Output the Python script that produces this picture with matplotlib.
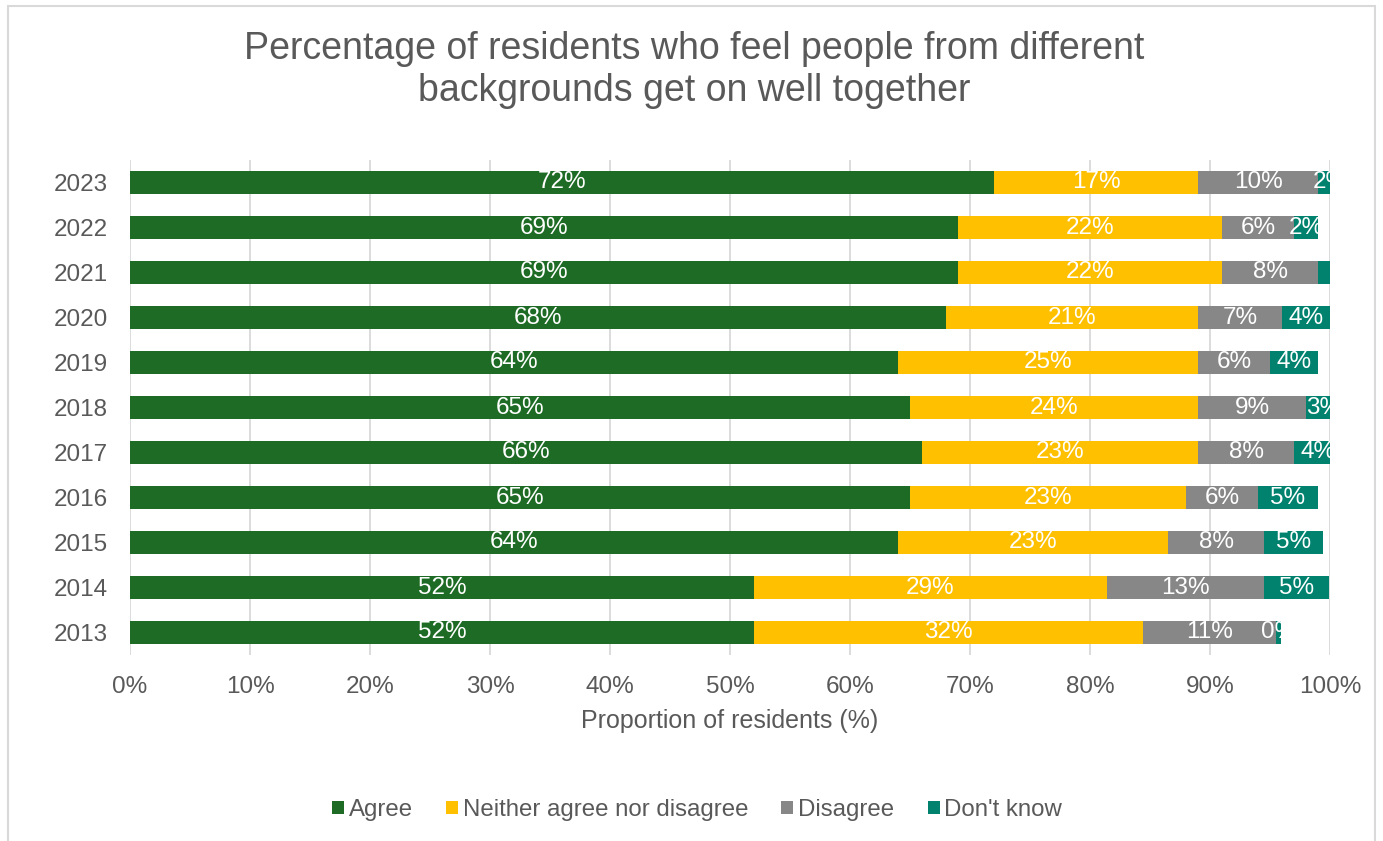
import matplotlib.pyplot as plt
from matplotlib.patches import Rectangle
import numpy as np

plt.rcParams['font.family'] = ['Liberation Sans', 'DejaVu Sans']

# Survey results (percent)
years = ['2023', '2022', '2021', '2020', '2019', '2018', '2017', '2016', '2015', '2014', '2013']
agree = [72, 69, 69, 68, 64, 65, 66, 65, 64, 52, 52]
neither = [17, 22, 22, 21, 25, 24, 23, 23, 22.5, 29.4, 32.4]
disagree = [10, 6, 8, 7, 6, 9, 8, 6, 8, 13.1, 11.1]
dont_know = [2, 2, 1, 4, 4, 3, 4, 5, 4.9, 5.4, 0.4]
# 2021 "Don't know" had no visible label
show_dk_label = [True, True, False, True, True, True, True, True, True, True, True]

series = [
    ('Agree', agree, '#1E6B25'),
    ('Neither agree nor disagree', neither, '#FFC000'),
    ('Disagree', disagree, '#878787'),
    ("Don't know", dont_know, '#00826F'),
]

text_col = '#595959'

fig = plt.figure(figsize=(13.83, 8.41), dpi=100)
ax = fig.add_axes([130 / 1383, 1 - 655 / 841, 1200 / 1383, 495 / 841])

# outer chart border
fig.patches.append(Rectangle((8 / 1383, -0.01), 1367 / 1383, 1.01 - 6 / 841, transform=fig.transFigure,
                             fill=False, edgecolor='#D9D9D9', linewidth=1.5))

y = np.arange(len(years))
left = np.zeros(len(years))
for name, vals, col in series:
    vals = np.array(vals, dtype=float)
    ax.barh(y, vals, left=left, height=0.5, color=col, label=name, zorder=2)
    for i, v in enumerate(vals):
        if name == "Don't know" and not show_dk_label[i]:
            continue
        ax.text(left[i] + v / 2, y[i], f'{int(v + 0.5)}%' if v >= 1 else f'{v:.0f}%',
                ha='center', va='center', color='white', fontsize=17.5, zorder=3)
    left += vals

ax.set_xlim(0, 100)
ax.set_ylim(len(years) - 0.5, -0.5)
ax.set_yticks(y)
ax.set_yticklabels(years)
ax.set_xticks(np.arange(0, 101, 10))
ax.set_xticklabels([f'{t}%' for t in range(0, 101, 10)])
ax.tick_params(axis='both', length=0, labelsize=17.5, labelcolor=text_col)
ax.tick_params(axis='x', pad=15)
ax.tick_params(axis='y', pad=16)
ax.grid(axis='x', color='#D9D9D9', linewidth=1.3, zorder=0)
ax.set_axisbelow(True)
for s in ax.spines.values():
    s.set_visible(False)

ax.set_xlabel('Proportion of residents (%)', fontsize=18, color=text_col, labelpad=8)

fig.text(0.502, 1 - 70 / 841, 'Percentage of residents who feel people from different\nbackgrounds get on well together',
         ha='center', va='center', fontsize=27, color=text_col, linespacing=1.2)

handles, labels = ax.get_legend_handles_labels()
fig.legend(handles, labels, loc='center', bbox_to_anchor=(0.504, 1 - 810 / 841), ncol=4,
           frameon=False, fontsize=17.3, labelcolor=text_col, handlelength=0.5, handleheight=0.5,
           handletextpad=0.2, columnspacing=1.38)

fig.savefig('out.png', dpi=100)
